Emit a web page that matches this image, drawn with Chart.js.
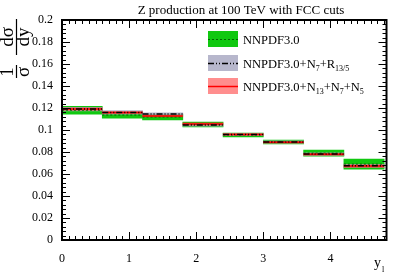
<!DOCTYPE html>
<html>
<head>
<meta charset="utf-8">
<script src="https://cdn.jsdelivr.net/npm/chart.js@4"></script>
<style>
  html, body { margin: 0; padding: 0; background: #fff; }
  canvas { display: block; }
</style>
</head>
<body>
<canvas id="zprod" width="407" height="277"></canvas>
<script>
// bin edges in y_l and the three predictions (central value, half width of band)
const binEdges = [0, 0.6, 1.2, 1.8, 2.4, 3.0, 3.6, 4.2, 4.8];
const nnpdfCentral = [0.1180, 0.1136, 0.1118, 0.1050, 0.0955, 0.0891, 0.0790, 0.0690];
const nnpdfErr     = [0.0036, 0.0028, 0.0027, 0.0023, 0.0018, 0.0018, 0.0027, 0.0045];
const n7Central    = [0.1190, 0.1160, 0.1145, 0.1046, 0.0958, 0.0891, 0.0781, 0.0674];
const n7Err        = [0.0016, 0.0016, 0.0010, 0.0012, 0.0010, 0.0010, 0.0012, 0.0015];
const n13Central   = [0.1190, 0.1158, 0.1127, 0.1055, 0.0960, 0.0889, 0.0779, 0.0672];
const n13Err       = [0.0012, 0.0010, 0.0008, 0.0010, 0.0008, 0.0008, 0.0010, 0.0012];
const xTicks = [0, 1, 2, 3, 4];
const yTicks = [0, 0.02, 0.04, 0.06, 0.08, 0.1, 0.12, 0.14, 0.16, 0.18, 0.2];

const SERIF = '"Liberation Serif", "DejaVu Serif", serif';

function bandData(central, err) {
    return central.map((c, i) => ({
        x: (binEdges[i] + binEdges[i + 1]) / 2,
        y: [c - err[i], c + err[i]]
    }));
}

function stepData(central) {
    const pts = [];
    central.forEach((c, i) => {
        pts.push({ x: binEdges[i], y: c });
        pts.push({ x: binEdges[i + 1], y: c });
        pts.push({ x: binEdges[i + 1], y: null });
    });
    return pts;
}

const GREEN = '#10c810';
const GREY = 'rgba(170,170,195,0.85)';
const RED = 'rgba(255,50,50,0.55)';

const barStyle = { type: 'bar', grouped: false, barPercentage: 1, categoryPercentage: 1, borderWidth: 0 };
const lineStyle = { type: 'line', pointRadius: 0, fill: false, spanGaps: false, tension: 0 };

// ROOT-like frame: title, inner ticks on all sides, fraction y title, legend
const rootFrame = {
    id: 'rootFrame',
    afterDraw(chart) {
        const ctx = chart.ctx;
        const a = chart.chartArea;
        const xs = chart.scales.x, ys = chart.scales.y;
        ctx.save();
        ctx.strokeStyle = '#000';
        ctx.lineWidth = 1;
        ctx.beginPath();
        for (let i = 0; i <= 48; i++) {
            const px = Math.round(xs.getPixelForValue(i / 10)) + 0.5;
            const len = i % 10 === 0 ? 8 : 4;
            ctx.moveTo(px, a.bottom); ctx.lineTo(px, a.bottom - len);
            ctx.moveTo(px, a.top); ctx.lineTo(px, a.top + len);
        }
        for (let i = 0; i <= 50; i++) {
            const py = Math.round(ys.getPixelForValue(i * 0.004)) + 0.5;
            const len = i % 5 === 0 ? 8 : 4;
            ctx.moveTo(a.left, py); ctx.lineTo(a.left + len, py);
            ctx.moveTo(a.right, py); ctx.lineTo(a.right - len, py);
        }
        ctx.stroke();
        ctx.lineWidth = 2;
        ctx.strokeRect(a.left, a.top, a.right - a.left, a.bottom - a.top);

        ctx.fillStyle = '#000';
        ctx.font = '13px ' + SERIF;
        ctx.textAlign = 'center';
        ctx.textBaseline = 'alphabetic';
        ctx.fillText('Z production at 100 TeV with FCC cuts', 241, 14);

        // x title y_l
        ctx.textAlign = 'left';
        ctx.font = '14px ' + SERIF;
        ctx.fillText('y', 374, 267);
        ctx.font = '8px ' + SERIF;
        ctx.fillText('l', 382, 272);

        // y title 1/σ dσ/dy
        ctx.save();
        ctx.rotate(-Math.PI / 2);
        ctx.font = '19px ' + SERIF;
        ctx.textAlign = 'center';
        ctx.fillText('1', -72, 13);
        ctx.fillText('σ', -72, 29);
        ctx.fillText('dσ', -37, 13);
        ctx.fillText('dy', -37, 29);
        ctx.lineWidth = 1.2;
        ctx.beginPath();
        ctx.moveTo(-78, 16.5); ctx.lineTo(-65, 16.5);
        ctx.moveTo(-55, 16.5); ctx.lineTo(-19, 16.5);
        ctx.stroke();
        ctx.restore();

        // legend
        const entries = [
            { fill: GREEN, line: '#006400', dash: [2, 2], w: 1, cy: 39, parts: [['NNPDF3.0', 0]] },
            { fill: GREY, line: '#000', dash: [6, 2, 1, 2, 1, 2], w: 1.5, cy: 63,
              parts: [['NNPDF3.0+N', 0], ['7', 1], ['+R', 0], ['13/5', 1]] },
            { fill: RED, line: '#ff0000', dash: [], w: 1.5, cy: 86,
              parts: [['NNPDF3.0+N', 0], ['13', 1], ['+N', 0], ['7', 1], ['+N', 0], ['5', 1]] }
        ];
        entries.forEach(e => {
            ctx.fillStyle = e.fill;
            ctx.fillRect(208, e.cy - 8, 30, 16);
            ctx.strokeStyle = e.line;
            ctx.lineWidth = e.w;
            ctx.setLineDash(e.dash);
            ctx.beginPath();
            ctx.moveTo(208, e.cy + 0.5); ctx.lineTo(238, e.cy + 0.5);
            ctx.stroke();
            ctx.setLineDash([]);
            ctx.fillStyle = '#000';
            ctx.textAlign = 'left';
            let tx = 243;
            e.parts.forEach(([s, sub]) => {
                ctx.font = (sub ? '8px ' : '12.5px ') + SERIF;
                ctx.fillText(s, tx, e.cy + 5 + (sub ? 3 : 0));
                tx += ctx.measureText(s).width;
            });
        });
        ctx.restore();
    }
};

new Chart(document.getElementById('zprod').getContext('2d'), {
    data: {
        datasets: [
            Object.assign({ label: 'NNPDF3.0', data: bandData(nnpdfCentral, nnpdfErr), backgroundColor: GREEN, order: 7 }, barStyle),
            Object.assign({ label: 'NNPDF3.0+N7+R13/5', data: bandData(n7Central, n7Err), backgroundColor: GREY, order: 6 }, barStyle),
            Object.assign({ label: 'NNPDF3.0+N13+N7+N5', data: bandData(n13Central, n13Err), backgroundColor: RED, order: 5 }, barStyle),
            Object.assign({ data: stepData(nnpdfCentral), borderColor: '#006400', borderWidth: 1, borderDash: [2, 2], order: 4 }, lineStyle),
            Object.assign({ data: stepData(n13Central), borderColor: '#ff0000', borderWidth: 1.5, order: 3 }, lineStyle),
            Object.assign({ data: stepData(n7Central), borderColor: '#000', borderWidth: 1.5, borderDash: [6, 2, 1, 2, 1, 2], order: 2 }, lineStyle)
        ]
    },
    options: {
        responsive: false,
        animation: false,
        devicePixelRatio: 1,
        layout: { padding: { top: 20, right: 20.5, left: 0, bottom: 0 } },
        plugins: { legend: { display: false }, tooltip: { enabled: false }, title: { display: false } },
        scales: {
            x: {
                type: 'linear', min: 0, max: 4.835, offset: false,
                grid: { display: false }, border: { display: false },
                afterBuildTicks: s => { s.ticks = xTicks.map(v => ({ value: v })); },
                afterFit: s => { s.height = 37; },
                ticks: { color: '#000', font: { family: SERIF, size: 12 }, padding: 4, maxRotation: 0 }
            },
            y: {
                min: 0, max: 0.2,
                grid: { display: false }, border: { display: false },
                afterBuildTicks: s => { s.ticks = yTicks.map(v => ({ value: v })); },
                afterFit: s => { s.width = 62; },
                ticks: { color: '#000', font: { family: SERIF, size: 12 }, padding: 1,
                         callback: v => String(+v.toFixed(2)) }
            }
        }
    },
    plugins: [rootFrame]
});
</script>
</body>
</html>
